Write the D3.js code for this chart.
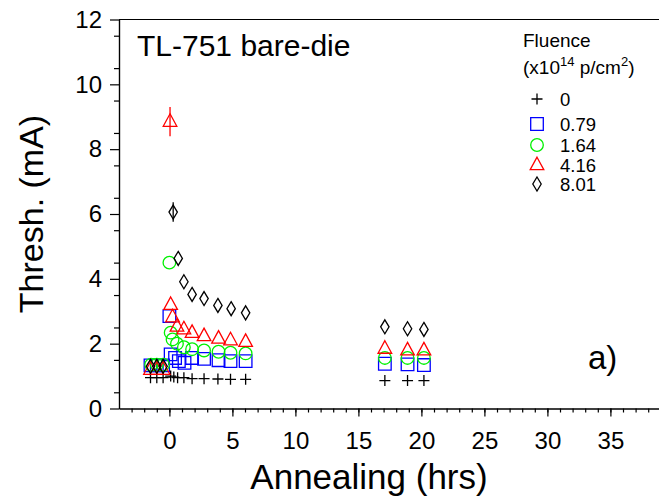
<!DOCTYPE html>
<meta charset="utf-8">
<script src="https://d3js.org/d3.v7.min.js"></script>
<style>
body { margin: 0; background: #fff; }
svg { font-family: "Liberation Sans", Arial, sans-serif; }
.axis path, .axis line { stroke: #000; stroke-width: 1.2; }
.axis text { font-size: 24px; fill: #000; }
</style>
<body>
<div id="chart"></div>
<script>
// fluence labels (x10^14 p/cm^2)
var fluence = ["0", "0.79", "1.64", "4.16", "8.01"];

// annealing time (hrs) and threshold (mA) for each fluence
var x0 = [-1.5, -1.0, -0.5, 0.1, 0.35, 0.65, 1.15, 1.8, 2.75, 3.85, 4.85, 6.05, 17.1, 18.9, 20.2];
var y0 = [0.95, 0.95, 0.95, 1.0, 0.97, 0.95, 0.95, 0.92, 0.92, 0.91, 0.9, 0.9, 0.86, 0.86, 0.86];

var x079 = [-1.5, -1.0, -0.5, 0.0, 0.1, 0.45, 0.75, 1.2, 1.8, 2.75, 3.9, 4.85, 6.05, 17.1, 18.9, 20.2];
var y079 = [1.33, 1.33, 1.33, 2.85, 1.67, 1.56, 1.46, 1.41, 1.56, 1.53, 1.49, 1.46, 1.46, 1.38, 1.36, 1.34];

var x164 = [-1.45, -1.0, -0.5, 0.0, 0.1, 0.25, 0.6, 1.15, 1.8, 2.75, 3.9, 4.85, 6.05, 17.1, 18.9, 20.2];
var y164 = [1.35, 1.35, 1.35, 4.5, 2.34, 2.13, 2.0, 1.89, 1.83, 1.79, 1.75, 1.72, 1.70, 1.56, 1.56, 1.56];

var x416 = [-1.5, -1.0, -0.5, 0.05, 0.1, 0.25, 0.6, 1.15, 1.8, 2.75, 3.9, 4.85, 6.05, 17.1, 18.9, 20.2];
var y416 = [1.2, 1.2, 1.2, 8.85, 3.2, 2.82, 2.53, 2.45, 2.34, 2.24, 2.16, 2.11, 2.06, 1.85, 1.8, 1.8];
var e416 = [0, 0, 0, 0.45, 0, 0, 0, 0, 0, 0, 0, 0, 0, 0, 0, 0];

var x801 = [-1.5, -1.0, -0.5, 0.3, 0.7, 1.15, 1.8, 2.75, 3.85, 4.9, 6.05, 17.1, 18.9, 20.2];
var y801 = [1.3, 1.3, 1.3, 6.06, 4.63, 3.91, 3.52, 3.39, 3.18, 3.08, 2.95, 2.52, 2.46, 2.44];
var e801 = [0, 0, 0, 0.3, 0, 0, 0, 0, 0, 0, 0, 0, 0, 0];

var xTicks = [0, 5, 10, 15, 20, 25, 30, 35];
var yTicks = [0, 2, 4, 6, 8, 10, 12];

var colours = ["#000000", "#0000ff", "#00f000", "#ff0000", "#000000"];
var shapes = ["plus", "square", "circle", "triangle", "diamond"];

function pts(xs, ys, es) {
  return xs.map(function(d, i) { return {t: d, v: ys[i], e: es ? es[i] : 0}; });
}
var series = [
  {name: fluence[0], values: pts(x0, y0)},
  {name: fluence[1], values: pts(x079, y079)},
  {name: fluence[2], values: pts(x164, y164)},
  {name: fluence[3], values: pts(x416, y416, e416)},
  {name: fluence[4], values: pts(x801, y801, e801)}
];

var W = 659, H = 499;
var plotLeft = 119, plotTop = 19.5, plotBottom = 408.5;

var svg = d3.select("#chart").append("svg")
  .attr("width", W)
  .attr("height", H);

var x = d3.scaleLinear().domain([-4, 40]).range([plotLeft, plotLeft + 44 * 12.6]);
var y = d3.scaleLinear().domain([0, 12]).range([plotBottom, plotTop]);

function shapePath(s) {
  if (s == "plus") return "M-5.5,0H5.5M0,-5.5V5.5";
  if (s == "square") return "M-6.3,-6.3H6.3V6.3H-6.3Z";
  if (s == "circle") return "M6.3,0A6.3,6.3 0 1,1 -6.3,0A6.3,6.3 0 1,1 6.3,0Z";
  if (s == "triangle") return "M0,-7.8L6.8,4.7L-6.8,4.7Z";
  return "M0,-7L4.2,0L0,7L-4.2,0Z";
}

// top frame line
svg.append("line")
  .attr("x1", x(-4)).attr("x2", W)
  .attr("y1", y(12)).attr("y2", y(12))
  .attr("stroke", "#000").attr("stroke-width", 1.2);

// x axis: minor then major
svg.append("g")
  .attr("class", "axis")
  .attr("transform", "translate(0," + plotBottom + ")")
  .call(d3.axisBottom(x).tickValues(d3.range(-3, 40)).tickSize(4).tickSizeOuter(0).tickFormat(""));
var xa = svg.append("g")
  .attr("class", "axis")
  .attr("transform", "translate(0," + plotBottom + ")")
  .call(d3.axisBottom(x).tickValues(xTicks).tickSize(8).tickSizeOuter(0));
xa.selectAll("text").attr("y", 40).attr("dy", 0);

// y axis
svg.append("g")
  .attr("class", "axis")
  .attr("transform", "translate(" + plotLeft + ",0)")
  .call(d3.axisLeft(y).tickValues(d3.range(0.5, 12, 1)).tickSize(5).tickSizeOuter(0).tickFormat(""));
svg.append("g")
  .attr("class", "axis")
  .attr("transform", "translate(" + plotLeft + ",0)")
  .call(d3.axisLeft(y).tickValues(yTicks).tickSize(9).tickSizeOuter(0).tickPadding(8));

var groups = svg.selectAll(".series")
  .data(series).enter()
  .append("g")
  .attr("class", "series")
  .attr("stroke", function(d, i) { return colours[i]; })
  .attr("stroke-width", 1.3)
  .attr("fill", "none");

// error bars
groups.selectAll(".err")
  .data(function(d) { return d.values.filter(function(p) { return p.e > 0; }); })
  .enter().append("line")
  .attr("x1", function(p) { return x(p.t); })
  .attr("x2", function(p) { return x(p.t); })
  .attr("y1", function(p) { return y(p.v + p.e); })
  .attr("y2", function(p) { return y(p.v - p.e); });

groups.each(function(s, i) {
  d3.select(this).selectAll(".mark")
    .data(s.values).enter()
    .append("path")
    .attr("class", "mark")
    .attr("d", shapePath(shapes[i]))
    .attr("fill", "none")
    .attr("transform", function(p) { return "translate(" + x(p.t) + "," + y(p.v) + ")"; });
});

// axis titles
svg.append("text")
  .attr("transform", "translate(43," + ((plotTop + plotBottom) / 2) + ") rotate(-90)")
  .attr("text-anchor", "middle")
  .style("font-size", "34px")
  .text("Thresh. (mA)");

svg.append("text")
  .attr("x", 369).attr("y", 489)
  .attr("text-anchor", "middle")
  .style("font-size", "35px")
  .text("Annealing (hrs)");

svg.append("text")
  .attr("x", 137).attr("y", 56)
  .style("font-size", "30px")
  .text("TL-751 bare-die");

svg.append("text")
  .attr("x", 588).attr("y", 369)
  .style("font-size", "33px")
  .text("a)");

// legend
var lg = svg.append("g").style("font-size", "19px");
lg.append("text").attr("x", 523).attr("y", 47).text("Fluence");
var sub = lg.append("text").attr("x", 523).attr("y", 74);
sub.append("tspan").text("(x10");
sub.append("tspan").attr("dy", -8).style("font-size", "13px").text("14");
sub.append("tspan").attr("dy", 8).text(" p/cm");
sub.append("tspan").attr("dy", -8).style("font-size", "13px").text("2");
sub.append("tspan").attr("dy", 8).text(")");

var rowY = [99, 124, 145, 165, 184];
var rows = lg.selectAll(".row")
  .data(fluence).enter()
  .append("g")
  .attr("transform", function(d, i) { return "translate(537," + rowY[i] + ")"; });
rows.append("path")
  .attr("d", function(d, i) { return shapePath(shapes[i]); })
  .attr("fill", "none")
  .attr("stroke", function(d, i) { return colours[i]; })
  .attr("stroke-width", 1.3);
rows.append("text")
  .attr("x", 23).attr("y", 7)
  .style("font-size", "18.5px")
  .text(function(d) { return d; });
</script>
</body>
